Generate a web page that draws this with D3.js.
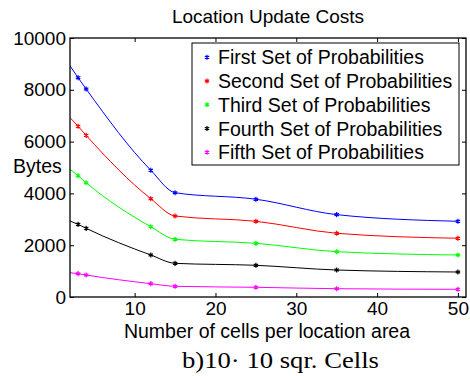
<!DOCTYPE html>
<html lang="en">
<head>
    <meta charset="UTF-8">
    <title>Location Update Costs</title>
    <style>
        body { margin: 0; background: #fff; }
        svg { display: block; }
        text { font-family: "Liberation Sans", Arial, sans-serif; fill: #000; }
    </style>
</head>
<body>
<div id="chart"></div>

<script src="https://cdn.jsdelivr.net/npm/d3@7"></script>
<script>
    // data
    let cells = [2, 3, 4, 12, 15, 25, 35, 50]
    let first = [8920, 8467, 8030, 4892, 4027, 3775, 3180, 2923]
    let second = [6925, 6592, 6240, 3795, 3127, 2923, 2460, 2268]
    let third = [4930, 4683, 4413, 2714, 2228, 2073, 1749, 1622]
    let fourth = [2934, 2806, 2652, 1622, 1300, 1224, 1042, 965]
    let fifth = [938, 900, 849, 514, 413, 375, 320, 297]

    let seriesNames = ['First Set of Probabilities', 'Second Set of Probabilities', 'Third Set of Probabilities',
        'Fourth Set of Probabilities', 'Fifth Set of Probabilities']
    let colors = ['#0000ff', '#ff0000', '#00ff00', '#000000', '#ff00ff']
    let xTicks = [10, 20, 30, 40, 50]
    let yTicks = [0, 2000, 4000, 6000, 8000, 10000]

    let series = [first, second, third, fourth, fifth].map((vals, i) => ({
        name: seriesNames[i],
        color: colors[i],
        values: vals.map((v, j) => ({x: cells[j], y: v}))
    }))

    let width = 470, height = 376,
        m = {left: 70, top: 38, right: 4, bottom: 79},
        w = width - m.left - m.right,
        h = height - m.top - m.bottom

    let svg = d3.select('#chart').append('svg')
        .attr('width', width)
        .attr('height', height)

    let x = d3.scaleLinear().domain([2, 51]).range([0, w])
    let y = d3.scaleLinear().domain([0, 10000]).range([h, 0])

    let g = svg.append('g').attr('transform', `translate(${m.left},${m.top})`)

    g.append('clipPath').attr('id', 'clip')
        .append('rect').attr('width', w).attr('height', h)

    // ticks pointing inward on all four sides
    let tick = 4
    g.append('g').attr('transform', `translate(0,${h})`)
        .call(d3.axisBottom(x).tickValues(xTicks).tickSizeInner(-tick).tickSizeOuter(0).tickPadding(5))
    g.append('g')
        .call(d3.axisTop(x).tickValues(xTicks).tickSizeInner(-tick).tickSizeOuter(0).tickFormat(''))
    g.append('g')
        .call(d3.axisLeft(y).tickValues(yTicks).tickSizeInner(-tick).tickSizeOuter(0).tickPadding(4)
            .tickFormat(d3.format('d')))
    g.append('g').attr('transform', `translate(${w},0)`)
        .call(d3.axisRight(y).tickValues(yTicks).tickSizeInner(-tick).tickSizeOuter(0).tickFormat(''))

    g.selectAll('.domain').remove()
    g.selectAll('.tick line').attr('stroke', '#000')
    g.selectAll('.tick text')
        .style('font-family', '"Liberation Sans", Arial, sans-serif')
        .style('font-size', '19px')
        .attr('fill', '#000')

    let line = d3.line()
        .x(d => x(d.x))
        .y(d => y(d.y))
        .curve(d3.curveMonotoneX)

    let star = d3.symbol().type(d3.symbolAsterisk).size(18)

    let lines = g.append('g').attr('clip-path', 'url(#clip)')
    series.forEach(s => {
        lines.append('path')
            .attr('d', line(s.values))
            .attr('fill', 'none')
            .attr('stroke', s.color)
            .attr('stroke-width', 1)
        lines.selectAll(null)
            .data(s.values.filter(d => d.x > x.domain()[0]))
            .enter()
            .append('path')
            .attr('d', star)
            .attr('transform', d => `translate(${x(d.x)},${y(d.y)})`)
            .attr('fill', 'none')
            .attr('stroke', s.color)
            .attr('stroke-width', 1.2)
    })

    // frame
    g.append('rect')
        .attr('width', w).attr('height', h)
        .attr('fill', 'none').attr('stroke', '#000').attr('stroke-width', 1.3)

    // legend
    let lg = g.append('g').attr('transform', `translate(${192 - m.left},${43 - m.top})`)
    lg.append('rect')
        .attr('width', 267).attr('height', 122)
        .attr('fill', '#fff').attr('stroke', '#000').attr('stroke-width', 1)
    let rows = lg.selectAll('g.row').data(series).enter()
        .append('g')
        .attr('transform', (d, i) => `translate(0,${14.3 + i * 23.75})`)
    rows.append('path')
        .attr('d', star)
        .attr('transform', 'translate(15,0)')
        .attr('fill', 'none')
        .attr('stroke', d => d.color)
        .attr('stroke-width', 1.2)
    rows.append('text')
        .attr('x', 26)
        .attr('y', 7)
        .style('font-size', '19.5px')
        .text(d => d.name)

    // titles
    svg.append('text')
        .attr('x', m.left + w / 2).attr('y', 23)
        .attr('text-anchor', 'middle')
        .style('font-size', '19px')
        .text('Location Update Costs')

    svg.append('text')
        .attr('x', 13).attr('y', 173)
        .style('font-size', '19.5px')
        .text('Bytes')

    svg.append('text')
        .attr('x', 267).attr('y', 338)
        .attr('text-anchor', 'middle')
        .style('font-size', '19.5px')
        .text('Number of cells per location area')

    svg.append('text')
        .attr('x', 182).attr('y', 368)
        .attr('textLength', 197)
        .attr('lengthAdjust', 'spacingAndGlyphs')
        .style('font-family', '"Liberation Serif", "Times New Roman", serif')
        .style('font-size', '23px')
        .text('b)10· 10 sqr. Cells')
</script>
</body>
</html>
